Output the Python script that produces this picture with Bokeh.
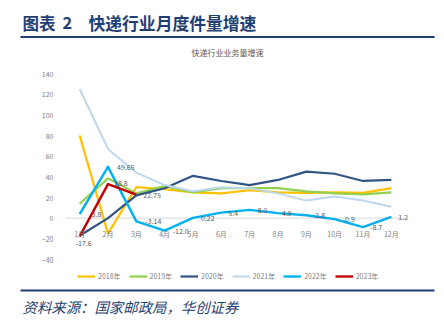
from bokeh.plotting import figure
from bokeh.models import (ColumnDataSource, Legend, LegendItem, Label, BoxAnnotation,
                          FixedTicker, LinearAxis, Range1d)
from bokeh.core.properties import value
from bokeh.embed import file_html
from bokeh.resources import INLINE

months = ["1月", "2月", "3月", "4月", "5月", "6月", "7月", "8月", "9月", "10月", "11月", "12月"]
x = list(range(1, 13))

y2018 = [80, -15, 30, 28, 25, 24, 27, 25, 24.5, 25, 24.5, 29]
y2019 = [14, 38.5, 24, 31, 25, 29, 29, 29, 26, 24, 23, 25]
y2020 = [-17, 0, 22, 29, 41, 36, 32, 37, 45, 43, 36, 37]
y2021 = [125, 67, 44, 32, 26, 30, 29, 24, 17, 21, 17, 11]
y2022 = [3.8, 49.65, -3.14, -12.0, 0.22, 5.4, 8.0, 4.9, 2.8, -0.9, -8.7, 1.2]
y2023 = [-17.6, 33, 22.75]

labels2022 = ["3.8", "49.65", "-3.14", "-12.0", "0.22", "5.4", "8.0", "4.9", "2.8", "-0.9", "-8.7", "1.2"]
labels2023 = ["-17.6", "28.8", "22.75"]

series = [("2018年", y2018, "#FFC000", 2.2),
          ("2019年", y2019, "#92D050", 2.2),
          ("2020年", y2020, "#2F5584", 2.2),
          ("2021年", y2021, "#BDD7EE", 2.0),
          ("2022年", y2022, "#00B0F0", 2.4),
          ("2023年", y2023, "#C00000", 2.4)]

yticks = [-40, -20, 0, 20, 40, 60, 80, 100, 120, 140]

# label offsets (pixels) – styling only
dx22 = [12, 9, 9, 8, 8, 7, 8, 4, 9, 8, 7, 7]
dx23 = [-4, 6, 7]
dy23 = [7, -1, 0]

W, H = 444, 328
PX_L, PX_R, PX_T, PX_B = 65, 405, 73, 259
XMIN, XMAX, YMIN, YMAX = 0.5, 12.5, -40, 140
sx = (PX_R - PX_L) / (XMAX - XMIN)
sy = (PX_B - PX_T) / (YMAX - YMIN)
x_range = Range1d(XMIN - PX_L / sx, XMAX + (W - PX_R) / sx)
y_range = Range1d(YMIN - (H - PX_B) / sy, YMAX + PX_T / sy)

FONT = "Noto Sans CJK SC"
SMALL = "7px"
p = figure(width=W, height=H, x_range=x_range, y_range=y_range,
           output_backend="svg", toolbar_location=None,
           min_border=0, x_axis_location=None, y_axis_location=None)
p.outline_line_color = None
p.xgrid.visible = False
p.ygrid.visible = False
p.background_fill_color = "white"
p.border_fill_color = "white"

yaxis = LinearAxis(ticker=FixedTicker(ticks=yticks), fixed_location=XMIN)
yaxis.axis_line_color = None
yaxis.major_tick_line_color = None
yaxis.minor_tick_line_color = None
yaxis.major_label_standoff = 6
yaxis.major_label_text_font = FONT
yaxis.major_label_text_font_size = SMALL
yaxis.major_label_text_color = "#7F7F7F"
p.add_layout(yaxis, "left")

xaxis = LinearAxis(ticker=FixedTicker(ticks=x), fixed_location=0)
xaxis.major_label_overrides = {i: m for i, m in zip(x, months)}
xaxis.axis_line_color = None
xaxis.major_tick_line_color = None
xaxis.minor_tick_line_color = None
xaxis.major_label_standoff = 5
xaxis.major_label_text_font = FONT
xaxis.major_label_text_font_size = SMALL
xaxis.major_label_text_color = "#7F7F7F"
p.add_layout(xaxis, "below")

p.line([XMIN, XMAX], [0, 0], line_color="#D9D9D9", line_width=1)

items = []
for name, ys, color, w in series:
    r = p.line(x[:len(ys)], ys, line_color=color, line_width=w, line_join="round")
    items.append(LegendItem(label=name, renderers=[r]))

src22 = ColumnDataSource(dict(x=x, y=y2022, t=labels2022, dx=dx22))
p.text("x", "y", text="t", source=src22, x_offset="dx", text_baseline="middle",
       text_font=value(FONT), text_font_size=SMALL, text_color="#595959")
src23 = ColumnDataSource(dict(x=x[:3], y=y2023, t=labels2023, dx=dx23, dy=dy23))
p.text("x", "y", text="t", source=src23, x_offset="dx", y_offset="dy",
       text_baseline="middle", text_font=value(FONT), text_font_size=SMALL, text_color="#595959")

legend = Legend(items=items, orientation="horizontal", location=(77, 47),
                glyph_width=18, glyph_height=10, label_height=10, label_standoff=3,
                spacing=8, padding=0, margin=0, border_line_color=None,
                background_fill_alpha=0,
                label_text_font=FONT, label_text_font_size=SMALL, label_text_color="#7F7F7F")
p.add_layout(legend, "center")

NAVY = "#1F3F73"
def lab(px, py, text, size, **kw):
    p.add_layout(Label(x=px, y=H - py, x_units="screen", y_units="screen", text=text,
                       text_font=FONT, text_font_size=size, text_baseline="middle", **kw))

lab(22, 22, "图表", "16.5px", text_font_style="bold", text_color=NAVY)
lab(62, 22, "2", "16.5px", text_font_style="bold", text_color=NAVY)
lab(88, 22, "快递行业月度件量增速", "16.8px", text_font_style="bold", text_color=NAVY)
lab(227, 52, "快递行业业务量增速", "8px", text_color="#595959", text_align="center")
lab(22, 306, "资料来源：国家邮政局，华创证券", "14.4px", text_font_style="italic", text_color=NAVY)

for top in (35.5, 289):
    p.add_layout(BoxAnnotation(left=20, right=434, top=H - top, bottom=H - top - 2,
                               left_units="screen", right_units="screen",
                               top_units="screen", bottom_units="screen",
                               fill_color=NAVY, fill_alpha=1, line_color=None))

open("out.html", "w").write(file_html(p, INLINE))
